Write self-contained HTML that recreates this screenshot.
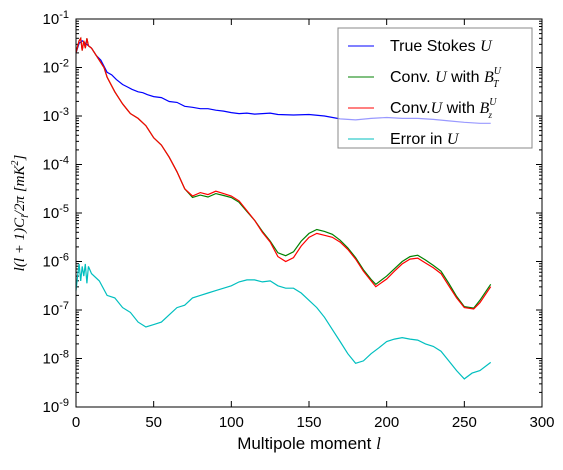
<!DOCTYPE html>
<html><head><meta charset="utf-8"><style>
body{margin:0;background:#fff;}
svg text{font-family:"Liberation Sans",sans-serif;}
.m{font-family:"Liberation Serif",serif;font-style:italic;}
</style></head><body>
<svg id="chart" width="563" height="465" viewBox="0 0 563 465">
<rect x="0" y="0" width="563" height="465" fill="#fff"/>
<g id="ticks"></g>
<g id="series"></g>
<rect x="76" y="19" width="466" height="388" fill="none" stroke="#000" stroke-width="1"/>
<g>
<rect x="338" y="28" width="194" height="120" fill="#fff" fill-opacity="0.6" stroke="#888"/>
<line x1="348" y1="46" x2="374" y2="46" stroke="#0000ff"/>
<text x="390" y="51" font-size="16">True Stokes <tspan class="m">U</tspan></text>
<line x1="348" y1="77" x2="374" y2="77" stroke="#008000"/>
<text x="390" y="82" font-size="16">Conv. <tspan class="m">U</tspan> with <tspan class="m">B</tspan><tspan class="m" font-size="10" dy="-8">U</tspan><tspan class="m" font-size="10" dx="-8" dy="13">T</tspan></text>
<line x1="348" y1="108" x2="374" y2="108" stroke="#ff0000"/>
<text x="390" y="113" font-size="16">Conv.<tspan class="m">U</tspan> with <tspan class="m">B</tspan><tspan class="m" font-size="10" dy="-8">U</tspan><tspan class="m" font-size="9" dx="-8" dy="13">z</tspan></text>
<line x1="348" y1="139" x2="374" y2="139" stroke="#00bfbf"/>
<text x="390" y="144" font-size="16">Error in <tspan class="m">U</tspan></text>
</g>
<text x="309" y="449" font-size="17" text-anchor="middle">Multipole moment <tspan class="m">l</tspan></text>
<text transform="translate(24,213) rotate(-90)" font-size="15" text-anchor="middle" class="m">l(l + 1)C<tspan font-size="10" dy="4">l</tspan><tspan dy="-4">/2π [mK</tspan><tspan font-size="10" dy="-6">2</tspan><tspan dy="6">]</tspan></text>
</svg>
<script>
const xTicks=[0,50,100,150,200,250,300];
const yTickExps=[-9,-8,-7,-6,-5,-4,-3,-2,-1];
const trueL=[0,2,4,6,8,10,13,16,20,23,26,30,33,36,40,43,46,50,55,60,65,70,75,80,85,90,95,100,105,110,115,120,125,130,140,150,160,170,180,190,200,210,220,230,240,250,260,267];
const trueV=[-1.7,-1.5,-1.45,-1.5,-1.55,-1.6,-1.75,-1.85,-2.1,-2.15,-2.25,-2.35,-2.4,-2.45,-2.5,-2.52,-2.56,-2.6,-2.62,-2.7,-2.72,-2.8,-2.82,-2.85,-2.85,-2.88,-2.9,-2.93,-2.95,-2.94,-2.96,-2.95,-2.94,-2.97,-2.98,-2.97,-3.0,-3.06,-3.08,-3.05,-3.03,-3.05,-3.05,-3.07,-3.1,-3.13,-3.15,-3.15];
const convL=[0,2,3,4,5,6,7,8,10,12,15,18,20,25,30,35,40,45,50,55,60,65,70,75,80,85,90,95,100,105,110,115,120,125,130,135,140,145,150,155,160,165,170,175,180,185,190,193,200,205,210,215,220,225,230,235,240,245,250,256,260,267];
const convZ=[-1.7,-1.45,-1.4,-1.65,-1.45,-1.6,-1.4,-1.55,-1.6,-1.7,-1.85,-2.0,-2.2,-2.5,-2.75,-2.95,-3.05,-3.2,-3.45,-3.6,-3.85,-4.15,-4.5,-4.65,-4.58,-4.62,-4.55,-4.6,-4.65,-4.75,-4.95,-5.15,-5.4,-5.6,-5.9,-6.0,-5.92,-5.68,-5.5,-5.42,-5.46,-5.5,-5.6,-5.75,-5.95,-6.2,-6.4,-6.52,-6.36,-6.2,-6.05,-5.95,-5.93,-6.03,-6.13,-6.25,-6.5,-6.75,-6.95,-6.98,-6.85,-6.52];
const convT=[-1.7,-1.45,-1.4,-1.65,-1.45,-1.6,-1.4,-1.55,-1.6,-1.7,-1.85,-2.0,-2.2,-2.5,-2.75,-2.95,-3.05,-3.2,-3.45,-3.6,-3.85,-4.15,-4.5,-4.68,-4.63,-4.67,-4.6,-4.64,-4.68,-4.78,-4.97,-5.15,-5.38,-5.58,-5.82,-5.88,-5.8,-5.58,-5.42,-5.34,-5.38,-5.44,-5.56,-5.72,-5.92,-6.17,-6.37,-6.47,-6.3,-6.15,-6.0,-5.9,-5.87,-5.97,-6.08,-6.2,-6.45,-6.72,-6.93,-6.96,-6.8,-6.47];
const errL=[0,1,2,3,4,5,6,7,8,10,15,20,25,30,35,40,45,50,55,60,65,70,75,80,85,90,95,100,105,110,115,120,125,130,135,140,145,150,155,160,165,170,175,180,185,190,195,200,205,210,215,220,225,230,235,240,245,250,255,260,267];
const errV=[-6.6,-6.3,-6.05,-6.4,-6.1,-6.3,-6.05,-6.45,-6.1,-6.25,-6.4,-6.7,-6.75,-6.95,-7.05,-7.25,-7.35,-7.3,-7.25,-7.1,-6.95,-6.9,-6.75,-6.7,-6.65,-6.6,-6.55,-6.5,-6.42,-6.38,-6.38,-6.42,-6.4,-6.5,-6.55,-6.55,-6.65,-6.8,-6.95,-7.15,-7.4,-7.65,-7.9,-8.1,-8.05,-7.9,-7.78,-7.65,-7.6,-7.57,-7.6,-7.62,-7.7,-7.75,-7.85,-8.05,-8.25,-8.42,-8.3,-8.25,-8.08];

const X0=76,X1=542,Y0=19,Y1=407;
const xs=v=>X0+(v/300)*(X1-X0);
const ys=e=>Y0+(-1-e)/8*(Y1-Y0);
const NS='http://www.w3.org/2000/svg';
const tg=document.getElementById('ticks'), sg=document.getElementById('series');
function mk(tag,attrs,parent){const el=document.createElementNS(NS,tag);for(const k in attrs)el.setAttribute(k,attrs[k]);parent.appendChild(el);return el;}
xTicks.forEach(t=>{
  const x=xs(t);
  const a=mk('line',{x1:x,x2:x,y1:Y1,y2:Y1-6,stroke:'#000'},tg);
  
  
  const b=mk('line',{x1:x,x2:x,y1:Y0,y2:Y0+6,stroke:'#000'},tg);
  
  
  const tx=mk('text',{x:x,y:Y1+20,'font-size':15,'text-anchor':'middle'},tg);
  tx.textContent=t;
  
  
});
yTickExps.forEach(e=>{
  const y=ys(e);
  const a=mk('line',{x1:X0,x2:X0+6,y1:y,y2:y,stroke:'#000'},tg);
  
  
  const b=mk('line',{x1:X1,x2:X1-6,y1:y,y2:y,stroke:'#000'},tg);
  
  
  if(e>-9){for(let m=2;m<10;m++){const yy=ys(e-1+Math.log10(m));
    const c=mk('line',{x1:X0,x2:X0+3,y1:yy,y2:yy,stroke:'#000'},tg);
    
    
    const d=mk('line',{x1:X1,x2:X1-3,y1:yy,y2:yy,stroke:'#000'},tg);
    
    }}
  const tx=mk('text',{x:X0-7,y:y+5,'font-size':15,'text-anchor':'end'},tg);
  tx.innerHTML='10<tspan font-size="11" dy="-6">'+e+'</tspan>';
  
  
});
function line(L,V,color,name){
  const d=L.map((l,i)=>(i?'L':'M')+xs(l).toFixed(1)+' '+ys(V[i]).toFixed(1)).join(' ');
  const p=mk('path',{d:d,fill:'none',stroke:color,'stroke-width':1.2},sg);
  
  
}
line(trueL,trueV,'#0000ff','true-stokes-line');
line(convL,convT,'#008000','conv-bt-line');
line(convL,convZ,'#ff0000','conv-bz-line');
line(errL,errV,'#00bfbf','error-line');
</script>
</body></html>
